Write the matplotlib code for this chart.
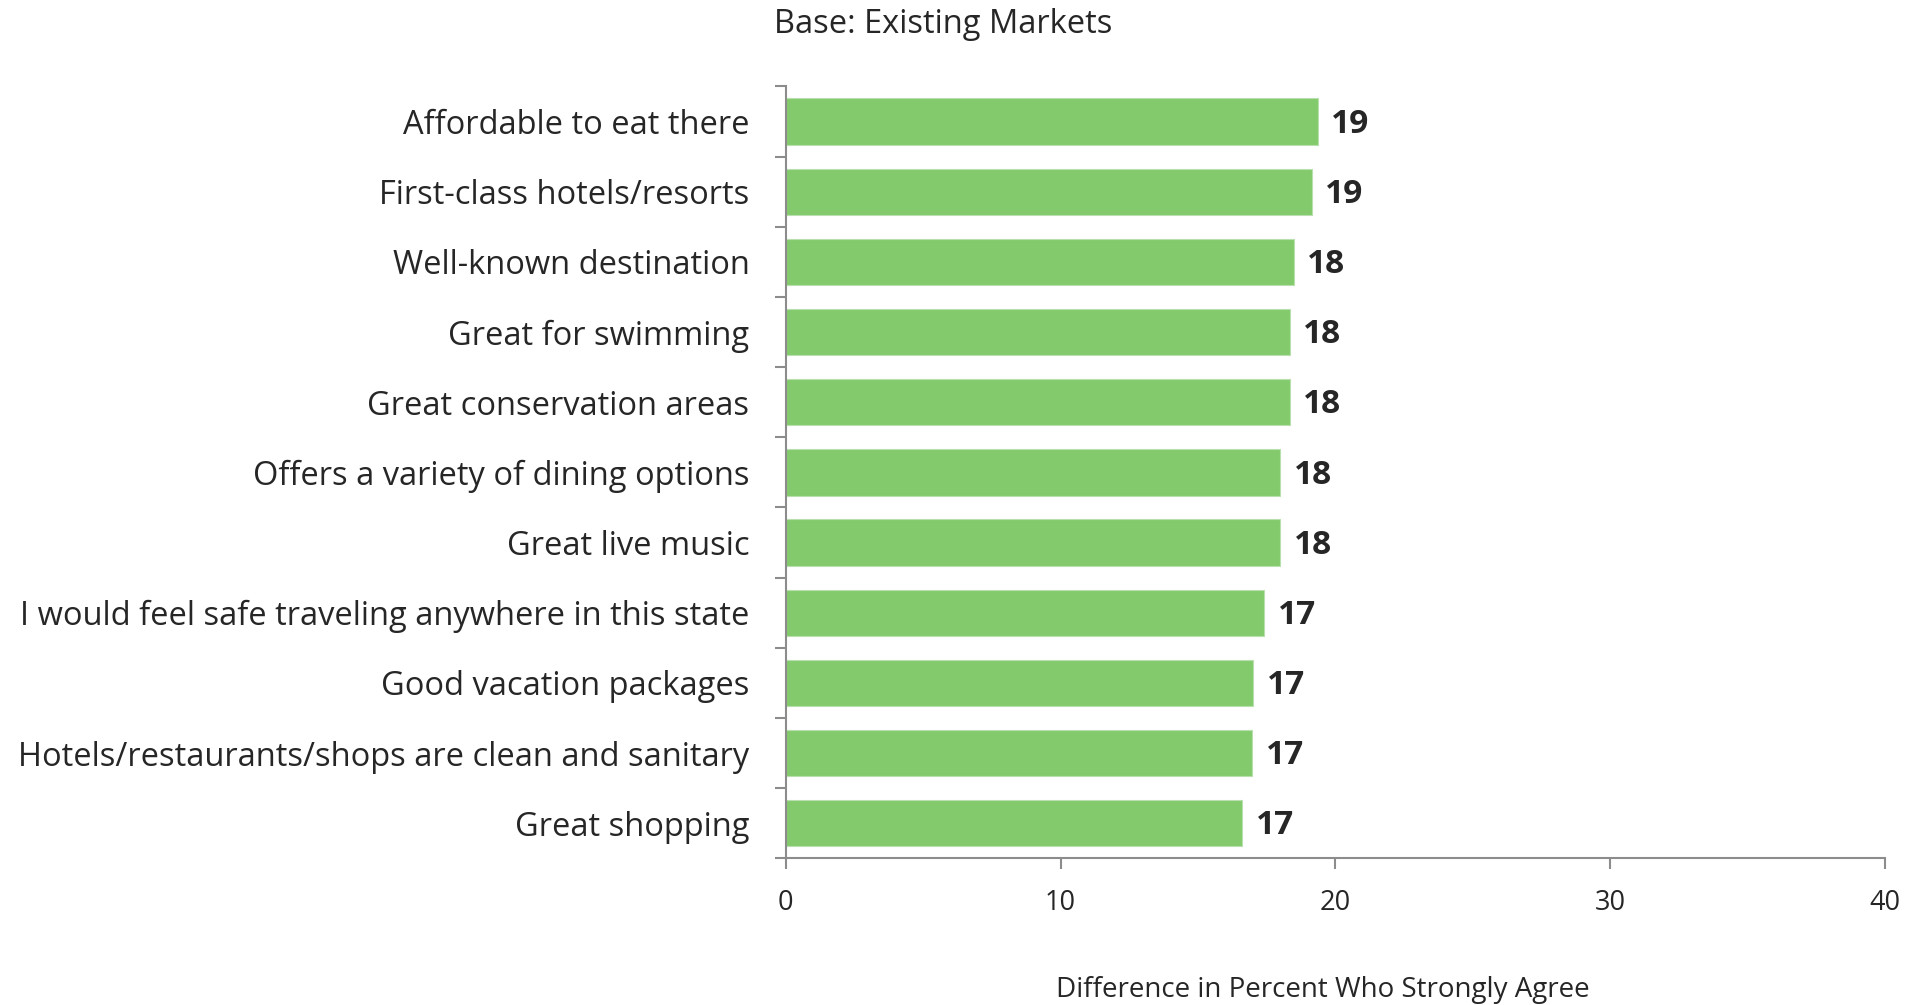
import matplotlib.pyplot as plt

categorias = [
    "Affordable to eat there",
    "First-class hotels/resorts",
    "Well-known destination",
    "Great for swimming",
    "Great conservation areas",
    "Offers a variety of dining options",
    "Great live music",
    "I would feel safe traveling anywhere in this state",
    "Good vacation packages",
    "Hotels/restaurants/shops are clean and sanitary",
    "Great shopping",
]
valores = [19.35, 19.13, 18.48, 18.33, 18.33, 17.98, 17.98, 17.40, 17.00, 16.96, 16.60]
etiquetas = ["19", "19", "18", "18", "18", "18", "18", "17", "17", "17", "17"]
xticks = [0, 10, 20, 30, 40]

plt.rcParams['font.family'] = ['Open Sans', 'DejaVu Sans']
texto = '#262626'
gris = '#8c8c8c'

fig = plt.figure(figsize=(19.16, 10.05), dpi=100)
ax = fig.add_axes([0.41, 0.146, 0.574, 0.768])

pos = list(range(len(categorias)))
ax.barh(pos, valores, height=0.66, color='#82CA6C', edgecolor='#b9dfae', linewidth=0.8)
ax.set_ylim(len(categorias) - 0.5, -0.5)
ax.set_xlim(0, 40)

# etiquetas de valor
for p, v, t in zip(pos, valores, etiquetas):
    ax.text(v + 0.5, p + 0.04, t, va='center', ha='left', fontsize=24,
            fontweight='bold', color=texto)

ax.set_yticks(pos)
ax.set_yticklabels(categorias, fontsize=23.5, color=texto, va='center_baseline')
ax.set_yticks([i + 0.5 for i in range(-1, len(categorias))], minor=True)
ax.tick_params(axis='y', which='major', length=0, pad=26)
ax.tick_params(axis='y', which='minor', length=8, color=gris, width=1.5)

ax.set_xticks(xticks)
ax.set_xticklabels([str(x) for x in xticks], fontsize=19.5, color=texto)
ax.tick_params(axis='x', length=8, color=gris, width=1.5, pad=14)

for s in ['top', 'right']:
    ax.spines[s].set_visible(False)
for s in ['left', 'bottom']:
    ax.spines[s].set_color(gris)
    ax.spines[s].set_linewidth(1.5)

fig.text(0.404, 0.976, "Base: Existing Markets", fontsize=23.5, color=texto,
         ha='left', va='center')
fig.text(0.6905, 0.015, "Difference in Percent Who Strongly Agree", fontsize=20,
         color=texto, ha='center', va='center')

fig.savefig('out.png', dpi=100)
